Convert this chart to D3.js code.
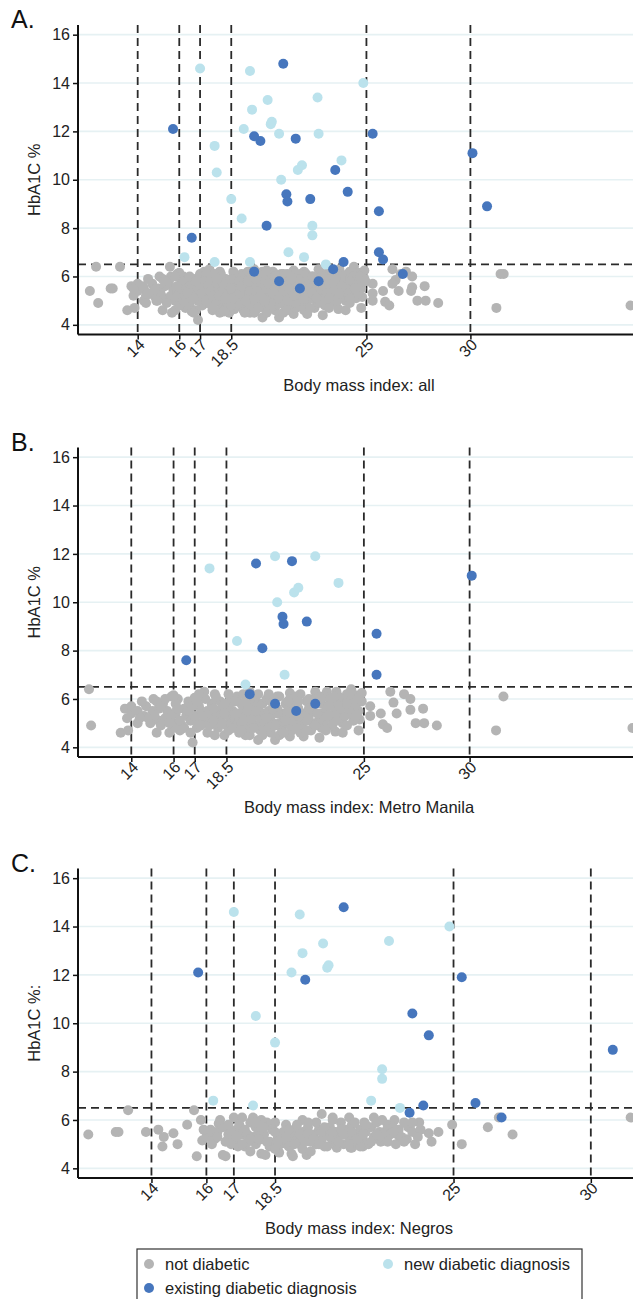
<!DOCTYPE html>
<html lang="en">
<head>
    <meta charset="UTF-8">
    <title>HbA1C by body mass index</title>
    <script src="https://d3js.org/d3.v7.min.js"></script>
    <style>
        body { margin: 0; background: #fff; }
        svg { display: block; font-family: "Liberation Sans", Arial, sans-serif; }
        .tick-label { font-size: 16px; fill: #222; }
        .axis-title { font-size: 16.5px; fill: #222; }
        .panel-label { font-size: 25px; fill: #111; }
    </style>
</head>
<body>
<svg id="chart" width="633" height="1299"></svg>

<script>
    // BMI / HbA1C pairs
    const manilaNotDiabetic = [
        [12.0,6.4],[12.1,4.9],[13.5,4.6],[13.7,5.6],[13.8,5.2],[13.85,4.7],[14.0,5.4],[14.0,5.7],[14.3,5.0],[14.7,5.7],
        [14.9,5.0],[15.05,6.0],[15.2,4.6],[15.3,5.1],[15.5,5.8],[15.8,4.6],[15.9,6.1],[16.2,6.0],[16.3,4.7],[16.5,5.6],
        [16.9,4.2],[17.0,6.05],[17.45,6.3],[17.95,6.2],[17.95,4.5],[18.4,4.5],[19.1,4.8],[19.4,4.5],[20.0,4.3],[20.8,4.3],
        [21.5,4.45],[22.15,4.45],[22.9,4.4],[23.65,4.65],[24.0,4.6],[24.75,4.7],[24.4,6.4],[24.6,6.15],[24.9,6.25],[24.8,5.15],
        [24.75,5.5],[25.3,5.7],[25.3,5.3],[25.8,5.4],[25.9,4.95],[26.1,4.8],[26.25,6.3],[26.4,5.85],[26.55,5.4],[26.9,6.2],
        [27.2,6.0],[27.2,5.55],[27.45,5.0],[27.8,5.6],[27.85,5.0],[28.45,4.9],[31.25,4.7],[31.6,6.1],[37.7,4.8],
        [20.9,6.1],[21.5,6.25],[22.7,6.3],[23.25,6.3],[23.7,6.3],[24.35,6.0],[23.55,5.85],[22.95,5.4],[23.9,5.3],[22.15,5.15],
        [21.35,5.0],[24.35,5.4],
        [14.6,5.3],[14.5,5.9],[15.0,5.5],[15.2,5.9],[15.6,5.2],[15.7,5.5],[15.4,4.9],[16.0,5.0],[16.1,5.4],[16.1,5.8],
        [16.4,4.9],[16.6,5.3],[16.7,5.9],[16.8,5.1],[17.1,4.8],[17.2,5.0],[17.0,5.3],[17.3,5.5],[17.2,5.7],[17.6,4.6],
        [17.5,5.1],[17.7,5.3],[17.6,5.5],[17.8,5.8],[17.5,6.0],[17.7,4.9],[18.1,4.8],[18.0,5.0],[18.2,5.2],[18.1,5.4],
        [18.3,5.6],[18.2,5.9],[18.6,4.7],[18.5,4.9],[18.7,5.1],[18.6,5.3],[18.8,5.5],[18.6,5.7],[18.7,6.0],[18.9,5.2],
        [19.1,4.6],[19.0,4.9],[19.2,5.0],[19.1,5.2],[19.0,5.4],[19.3,5.6],[19.2,5.8],[19.0,6.1],[19.4,5.3],[19.6,4.5],
        [19.5,4.8],[19.7,5.0],[19.6,5.1],[19.8,5.3],[19.5,5.5],[19.7,5.7],[19.9,5.9],[19.6,6.0],[20.1,4.7],[20.0,4.9],
        [20.2,5.1],[20.1,5.2],[20.3,5.4],[20.0,5.6],[20.2,5.8],[20.4,6.0],[20.3,5.0],[20.6,4.6],[20.5,4.8],[20.7,5.0],
        [20.6,5.3],[20.5,5.5],[20.8,5.7],[20.6,5.9],[20.5,6.2],[21.0,4.5],[21.1,4.8],[21.0,5.0],[21.2,5.2],[21.1,5.4],
        [20.9,5.6],[21.3,5.8],[21.0,6.1],[21.6,4.7],[21.5,4.9],[21.7,5.1],[21.6,5.3],[21.4,5.5],[21.7,5.7],[21.5,6.0],
        [22.0,4.6],[22.1,4.8],[22.0,5.0],[22.2,5.2],[22.1,5.4],[21.9,5.6],[22.3,5.9],[22.0,6.2],[22.5,4.7],[22.6,5.0],
        [22.4,5.3],[22.6,5.5],[22.5,5.7],[22.4,6.0],[23.0,4.8],[23.1,5.0],[22.9,5.2],[23.2,5.5],[23.0,5.8],[23.1,6.1],
        [23.5,4.9],[23.4,5.2],[23.6,5.4],[23.5,5.7],[23.4,6.0],[24.0,5.0],[24.1,5.3],[23.9,5.6],[24.0,5.9],[24.2,6.2],
        [24.5,5.1],[24.6,5.7],[24.4,6.0],[24.9,5.9],[16.0,6.15],[15.3,5.6],[14.3,5.5],[17.9,5.1],[19.3,6.2],[21.8,6.1],
        [22.8,5.0],[18.4,5.8],[20.9,5.4],
        [15.1,5.3],[15.4,5.7],[15.6,6.0],[15.9,5.3],[16.2,5.6],[16.3,5.1],[16.7,5.5],[16.5,4.8],[16.9,5.7],[17.1,5.9],
        [17.4,5.3],[17.3,4.9],[17.9,5.6],[18.0,6.1],[18.3,5.0],[18.4,5.4],[18.8,4.8],[18.9,5.9],[19.2,4.7],[19.4,5.9],
        [19.3,5.1],[19.8,4.8],[19.9,5.5],[20.0,6.2],[20.4,4.7],[20.4,5.2],[20.7,5.6],[20.8,4.9],[21.2,4.6],[21.3,5.1],
        [21.4,5.9],[21.8,4.8],[21.9,5.3],[21.9,5.9],[22.3,4.7],[22.3,5.1],[22.4,5.6],[22.7,4.9],[22.8,5.4],[22.7,6.0],
        [23.2,4.7],[23.3,5.3],[23.3,5.7],[23.7,5.1],[23.8,5.8],[23.8,6.1],[24.2,4.9],[24.3,5.6],[24.6,5.3],[24.7,6.0],
        [24.2,5.8],[23.6,6.1],[22.9,6.1],[20.2,4.5],[19.6,6.3],[18.6,6.2],[17.2,6.2],[16.8,4.6],[16.0,4.8],[14.8,5.2],
        [14.4,5.2],[15.8,5.0]
    ];
    const manilaNew = [
        [17.7,11.4],[19.0,8.4],[19.4,6.6],[20.8,11.9],[20.9,10.0],[21.25,7.0],[21.7,10.4],[21.9,10.6],[22.7,11.9],[23.8,10.8]
    ];
    const manilaExisting = [
        [16.6,7.6],[19.6,6.2],[19.9,11.6],[20.2,8.1],[20.8,5.8],[21.15,9.4],[21.2,9.1],[21.6,11.7],[21.8,5.5],[22.3,9.2],
        [22.7,5.8],[25.6,8.7],[25.6,7.0],[30.1,11.1]
    ];

    const negrosNotDiabetic = [
        [11.7,5.4],[12.7,5.5],[12.8,5.5],[13.15,6.4],[13.8,5.5],[14.25,5.6],[14.4,4.9],[14.45,5.3],[14.8,5.45],[14.95,5.0],
        [15.3,5.8],[15.55,6.4],[15.65,4.5],[15.8,6.0],[15.85,5.15],[16.15,5.6],[16.45,5.85],[16.6,4.55],[16.7,4.5],[17.0,6.1],
        [17.3,6.1],[17.15,4.9],[17.4,4.9],[17.7,6.1],[18.0,4.6],[18.15,4.55],[18.5,5.9],[18.65,4.65],[19.1,4.6],[19.15,4.5],
        [19.5,6.0],[19.65,4.55],[20.2,6.25],[20.6,6.1],[20.75,4.85],[21.2,6.1],[21.25,4.85],[21.3,4.85],[21.7,4.9],[21.75,5.9],
        [22.1,6.1],[22.35,5.1],[22.55,5.55],[22.85,6.0],[22.9,5.0],[23.0,5.35],[23.35,5.7],[23.4,5.7],[23.75,5.9],[24.1,5.45],
        [24.2,5.1],[24.45,5.5],[24.95,5.8],[25.3,5.0],[26.25,5.7],[26.65,6.1],[27.15,5.4],[31.45,6.1],
        [16.0,5.3],[16.2,5.0],[16.4,5.5],[16.3,5.2],[16.6,5.7],[16.8,5.4],[16.9,5.0],[17.1,5.6],[17.0,5.2],[17.2,5.8],
        [17.3,5.4],[17.5,5.1],[17.4,5.6],[17.6,5.9],[17.7,5.3],[17.8,5.0],[17.9,5.5],[17.8,5.7],[18.0,5.2],[18.1,5.4],
        [18.2,5.9],[18.3,5.1],[18.4,5.6],[18.3,4.9],[18.6,5.3],[18.7,5.0],[18.8,5.5],[18.9,5.8],[18.7,5.2],[19.0,5.1],
        [19.1,5.4],[19.2,5.6],[19.0,4.9],[19.3,5.2],[19.4,5.0],[19.5,5.5],[19.6,5.3],[19.7,5.7],[19.5,4.8],[19.8,5.1],
        [19.9,5.4],[20.0,5.0],[20.1,5.6],[20.0,5.9],[20.2,5.2],[20.3,4.9],[20.4,5.4],[20.5,5.7],[20.6,5.1],[20.7,5.5],
        [20.8,5.3],[20.9,5.9],[21.0,5.0],[21.1,5.6],[21.2,5.3],[21.3,5.8],[21.4,5.1],[21.5,5.4],[21.6,5.6],[21.7,5.2],
        [21.8,5.5],[21.9,5.0],[22.0,5.7],[22.1,5.3],[22.2,5.9],[22.3,5.5],[22.5,5.2],[22.6,5.8],[22.7,5.4],[23.0,5.6],
        [23.2,5.9],[23.3,5.2],[23.5,5.5],[23.6,5.0],[23.8,5.6],[18.5,4.8],[19.8,4.7],[20.4,4.9],[17.6,4.7],[21.6,4.9],
        [22.8,5.7],[16.5,6.0],[18.0,6.0],
        [16.1,5.5],[16.4,5.3],[16.7,5.1],[16.9,5.5],[17.1,5.3],[17.3,5.0],[17.5,5.4],[17.6,5.2],[17.9,5.2],[18.1,5.7],
        [18.2,5.1],[18.5,5.5],[18.6,5.1],[18.9,5.3],[19.0,5.6],[19.2,5.0],[19.3,5.8],[19.4,5.4],[19.6,5.1],[19.7,5.4],
        [19.9,5.2],[20.1,5.0],[20.2,5.5],[20.3,5.7],[20.5,5.3],[20.6,5.5],[20.8,5.1],[20.9,5.6],[21.0,5.4],[21.2,5.0],
        [21.3,5.5],[21.5,5.2],[21.7,5.4],[21.8,5.8],[22.0,5.1],[22.2,5.4],[22.4,5.3],[22.6,5.1],[22.8,5.5],[23.1,5.3],
        [23.2,5.1],[23.5,5.9],[23.7,5.3],[17.8,5.9],[19.7,5.9],[20.6,6.0],[21.4,5.9],[22.4,6.0],[16.8,5.8],[15.9,5.6]
    ];
    const negrosNew = [
        [16.25,6.8],[17.0,14.6],[17.7,6.6],[17.8,10.3],[18.5,9.2],[19.1,12.1],[19.4,14.5],[19.5,12.9],[20.25,13.3],[20.4,12.3],
        [20.45,12.4],[22.0,6.8],[22.4,8.1],[22.4,7.7],[22.65,13.4],[23.05,6.5],[24.85,14.0]
    ];
    const negrosExisting = [
        [15.7,12.1],[19.6,11.8],[21.0,14.8],[23.4,6.3],[23.5,10.4],[23.9,6.6],[24.1,9.5],[25.3,11.9],[25.8,6.7],[26.75,6.1],
        [30.8,8.9]
    ];

    const bmiCutoffs = [14, 16, 17, 18.5, 25, 30];
    const yTicks = [4, 6, 8, 10, 12, 14, 16];
    const hbaCutoff = 6.5;
    const groupNames = ["not diabetic", "new diabetic diagnosis", "existing diabetic diagnosis"];
    const groupColors = ["#b4b4b4", "#bbe2ec", "#4676bd"];

    const panels = [
        {label: "A.", top: 25, xDomain: [11.13, 38.3], xTitle: "Body mass index: all", yTitle: "HbA1C %",
         groups: [manilaNotDiabetic.concat(negrosNotDiabetic), manilaNew.concat(negrosNew), manilaExisting.concat(negrosExisting)]},
        {label: "B.", top: 447.5, xDomain: [11.48, 38.2], xTitle: "Body mass index: Metro Manila", yTitle: "HbA1C %",
         groups: [manilaNotDiabetic, manilaNew, manilaExisting]},
        {label: "C.", top: 868.5, xDomain: [11.325, 31.9], xTitle: "Body mass index: Negros", yTitle: "HbA1C %:",
         groups: [negrosNotDiabetic, negrosNew, negrosExisting]}
    ];

    const left = 78, right = 643, plotH = 309.5;
    const svg = d3.select("#chart");

    panels.forEach(p => {
        const bottom = p.top + plotH;
        const x = d3.scaleLinear().domain(p.xDomain).range([left, right]);
        const y = d3.scaleLinear().domain([3.6, 16.4]).range([bottom, p.top]);
        const g = svg.append("g");

        // gridlines
        g.selectAll(".grid").data(yTicks).enter().append("line")
            .attr("x1", left).attr("x2", right)
            .attr("y1", d => y(d)).attr("y2", d => y(d))
            .attr("stroke", "#e6f1f3").attr("stroke-width", 1.6);

        // dashed reference lines
        g.selectAll(".vcut").data(bmiCutoffs).enter().append("line")
            .attr("x1", d => x(d)).attr("x2", d => x(d))
            .attr("y1", p.top).attr("y2", bottom)
            .attr("stroke", "#2a2a2a").attr("stroke-width", 1.8)
            .attr("stroke-dasharray", "8,5");
        g.append("line")
            .attr("x1", left).attr("x2", right)
            .attr("y1", y(hbaCutoff)).attr("y2", y(hbaCutoff))
            .attr("stroke", "#2a2a2a").attr("stroke-width", 1.8)
            .attr("stroke-dasharray", "8,5");

        // points: grey first, then new, then existing
        p.groups.forEach((pts, i) => {
            g.selectAll(null).data(pts).enter().append("circle")
                .attr("cx", d => x(d[0])).attr("cy", d => y(d[1]))
                .attr("r", 5)
                .attr("fill", groupColors[i]);
        });

        // y axis
        const yAxis = g.append("g")
            .attr("transform", `translate(${left},0)`)
            .call(d3.axisLeft(y).tickValues(yTicks).tickSize(5).tickPadding(3));
        yAxis.select(".domain").attr("stroke", "#111").attr("stroke-width", 2)
            .attr("d", `M0,${p.top}V${bottom}`);
        yAxis.selectAll(".tick line").attr("stroke", "#111").attr("stroke-width", 1.5);
        yAxis.selectAll(".tick text").attr("class", "tick-label").attr("font-family", null).attr("font-size", null);

        // x axis
        const xAxis = g.append("g")
            .attr("transform", `translate(0,${bottom})`)
            .call(d3.axisBottom(x).tickValues(bmiCutoffs).tickSize(5).tickFormat(d3.format("")));
        xAxis.select(".domain").attr("stroke", "#111").attr("stroke-width", 2)
            .attr("d", `M${left},0H${right}`);
        xAxis.selectAll(".tick line").attr("stroke", "#111").attr("stroke-width", 1.5);
        xAxis.selectAll(".tick text")
            .attr("class", "tick-label").attr("font-family", null).attr("font-size", null)
            .attr("text-anchor", "end")
            .attr("x", 3).attr("y", 10).attr("dy", "0.35em")
            .attr("transform", "rotate(-45 0 8)");

        // titles
        g.append("text").attr("class", "axis-title")
            .attr("x", 359).attr("y", bottom + 56)
            .attr("text-anchor", "middle").text(p.xTitle);
        g.append("text").attr("class", "axis-title")
            .attr("transform", `translate(40,${(p.top + bottom) / 2}) rotate(-90)`)
            .attr("text-anchor", "middle").text(p.yTitle);
        g.append("text").attr("class", "panel-label")
            .attr("x", 11).attr("y", p.top + 3).text(p.label);
    });

    // legend
    const legend = svg.append("g");
    legend.append("rect")
        .attr("x", 137).attr("y", 1249).attr("width", 445).attr("height", 70)
        .attr("fill", "#fff").attr("stroke", "#333").attr("stroke-width", 1.2);
    const legendPos = [[149, 1264], [388, 1264], [149, 1288]];
    groupNames.forEach((name, i) => {
        legend.append("circle")
            .attr("cx", legendPos[i][0]).attr("cy", legendPos[i][1])
            .attr("r", 5).attr("fill", groupColors[i]);
        legend.append("text").attr("class", "axis-title")
            .attr("x", legendPos[i][0] + 16).attr("y", legendPos[i][1])
            .attr("dy", "0.35em").text(name);
    });
</script>
</body>
</html>
